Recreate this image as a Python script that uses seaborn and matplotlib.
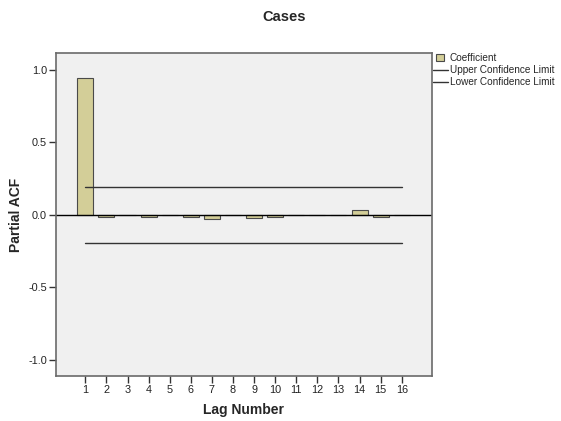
import matplotlib
matplotlib.use("Agg")
import matplotlib.pyplot as plt
import matplotlib.patches as mpatches
from matplotlib.lines import Line2D
from matplotlib.legend_handler import HandlerPatch
import seaborn as sns
import pandas as pd

lags = list(range(1, 17))
pacf = [0.945, -0.018, -0.004, -0.016, -0.004, -0.015, -0.028, -0.004,
        -0.020, -0.013, -0.003, -0.003, -0.003, 0.030, -0.013, -0.005]
upper_limit = [0.194] * 16
lower_limit = [-0.194] * 16
yticks = [-1.0, -0.5, 0.0, 0.5, 1.0]

sns.set_theme(style="white")
plt.rcParams['font.family'] = ['Liberation Sans', 'DejaVu Sans']

df = pd.DataFrame({"Lag": [str(l) for l in lags], "PACF": pacf})

fig = plt.figure(figsize=(5.61, 4.21), dpi=100)
ax = fig.add_axes([56/561, 1-376/421, (431.7-56)/561, (376-53.3)/421])
ax.set_facecolor("#F0F0F0")

bar_color = "#D3CE98"
sns.barplot(data=df, x="Lag", y="PACF", color=bar_color, width=0.76,
            edgecolor="#4a4a4a", linewidth=0.8, ax=ax, saturation=1)

xs = list(range(len(lags)))
ax.plot(xs, upper_limit, color="#333333", lw=1.0)
ax.plot(xs, lower_limit, color="#333333", lw=1.0)
ax.axhline(0, color="black", lw=1.0, zorder=1)

ax.set_xlim(-1.39, 16.42)
ax.set_ylim(-1.112, 1.112)
ax.set_yticks(yticks)
ax.set_yticklabels([f"{v:.1f}" for v in yticks])

for s in ax.spines.values():
    s.set_color("#6a6a6a")
    s.set_linewidth(1.2)

ax.tick_params(axis="both", which="both", direction="out", length=5, width=1,
               color="#333333", labelsize=7.8, labelcolor="#222222", pad=1.5,
               left=True, bottom=True)

ax.set_xlabel("Lag Number", fontsize=10, fontweight="bold", labelpad=6)
ax.set_ylabel("Partial ACF", fontsize=10, fontweight="bold", labelpad=4)

fig.text(284/561, 1-17/421, "Cases", ha="center", va="center",
         fontsize=10.5, fontweight="bold")


class SquareHandler(HandlerPatch):
    def create_artists(self, legend, orig_handle, xdescent, ydescent,
                       width, height, fontsize, trans):
        size = 7.5 * 72 / 100.0
        x0 = width * 0.2 - xdescent
        y0 = (height - size) / 2 - ydescent
        p = mpatches.Rectangle((x0, y0), size, size,
                               facecolor=orig_handle.get_facecolor(),
                               edgecolor=orig_handle.get_edgecolor(),
                               lw=0.8, transform=trans)
        return [p]


h_bar = mpatches.Patch(facecolor=bar_color, edgecolor="#4a4a4a")
h_up = Line2D([], [], color="#333333", lw=1.0)
h_lo = Line2D([], [], color="#333333", lw=1.0)
fig.legend([h_bar, h_up, h_lo],
           ["Coefficient", "Upper Confidence Limit", "Lower Confidence Limit"],
           loc="upper left", bbox_to_anchor=(433/561, 1-53/421),
           frameon=False, fontsize=7.2, handlelength=1.5, handletextpad=0.15,
           labelspacing=0.2, borderpad=0, borderaxespad=0,
           handler_map={mpatches.Patch: SquareHandler()})

fig.savefig("out.png", dpi=100)
